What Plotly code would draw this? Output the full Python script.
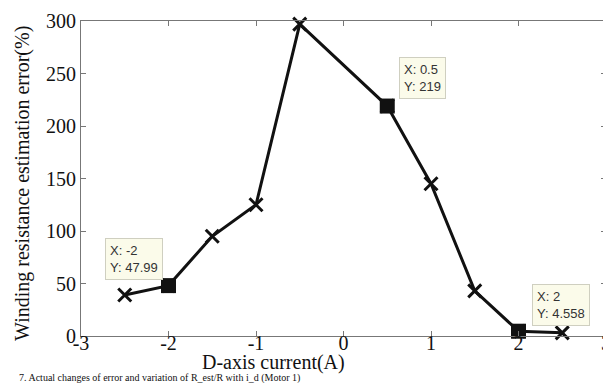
import plotly.graph_objects as go

x_vals = [-2.5, -2, -1.5, -1, -0.5, 0.5, 1, 1.5, 2, 2.5]
y_vals = [39, 47.99, 95, 125, 297, 219, 145, 43, 4.558, 3]

tip_x = [-2, 0.5, 2]
tip_y = [47.99, 219, 4.558]
tip_labels = ["X: -2<br>Y: 47.99", "X: 0.5<br>Y: 219", "X: 2<br>Y: 4.558"]

x_ticks = [-3, -2, -1, 0, 1, 2, 3]
y_ticks = [0, 50, 100, 150, 200, 250, 300]

serif = "Liberation Serif, Times New Roman, serif"

fig = go.Figure()
fig.add_trace(go.Scatter(
    x=x_vals, y=y_vals, mode="lines+markers",
    line=dict(color="#111111", width=3),
    marker=dict(symbol="x-thin", size=13, line=dict(color="#111111", width=3), color="#111111"),
    showlegend=False, cliponaxis=False,
))
fig.add_trace(go.Scatter(
    x=tip_x, y=tip_y, mode="markers",
    marker=dict(symbol="square", size=15, color="#111111"),
    showlegend=False, cliponaxis=False,
))

shifts = [(-6, 6, "right"), (12, 7, "left"), (13, 5, "left")]
for (tx, ty, lab), (xs, ys, xa) in zip(zip(tip_x, tip_y, tip_labels), shifts):
    fig.add_annotation(
        x=tx, y=ty, xref="x", yref="y", text=lab, showarrow=False,
        xanchor=xa, yanchor="bottom", xshift=xs, yshift=ys, align="left",
        font=dict(family="Liberation Sans, Arial", size=13, color="#333333"),
        bgcolor="#fbfbea", bordercolor="#cfcfc0", borderwidth=1, borderpad=4,
    )

# axis titles
fig.add_annotation(
    x=0.366, y=-0.085, xref="paper", yref="paper", text="D-axis current(A)",
    showarrow=False, xanchor="center", yanchor="middle", borderpad=0,
    font=dict(family=serif, size=20, color="#111111"),
)
fig.add_annotation(
    x=-0.1105, y=0.486, xref="paper", yref="paper",
    text="Winding resistance estimation error(%)", textangle=-90,
    showarrow=False, xanchor="center", yanchor="middle",
    font=dict(family=serif, size=20, color="#111111"),
)
# caption
fig.add_annotation(
    x=0, y=0, xref="paper", yref="paper",
    text="7. Actual changes of error and variation of R_est/R with i_d (Motor 1)",
    showarrow=False, xanchor="left", yanchor="bottom", xshift=-63, yshift=-49, borderpad=0,
    font=dict(family=serif, size=10, color="#111111"),
)

axis_common = dict(
    showline=True, linecolor="#777777", linewidth=1, mirror="ticks",
    ticks="inside", ticklen=5, tickcolor="#777777", showgrid=False, zeroline=False,
    automargin=False,
    tickfont=dict(family=serif, size=20, color="#111111"),
)
fig.update_xaxes(range=[-3, 3], tickvals=x_ticks, ticktext=[str(v) for v in x_ticks],
                 ticklabelstandoff=-11, **axis_common)
fig.update_yaxes(range=[0, 300], tickvals=y_ticks, ticktext=[str(v) for v in y_ticks], **axis_common)
fig.update_layout(
    width=611, height=383,
    margin=dict(l=73, r=13, t=13, b=55),
    paper_bgcolor="white", plot_bgcolor="white",
)
fig.write_html("out.html")
